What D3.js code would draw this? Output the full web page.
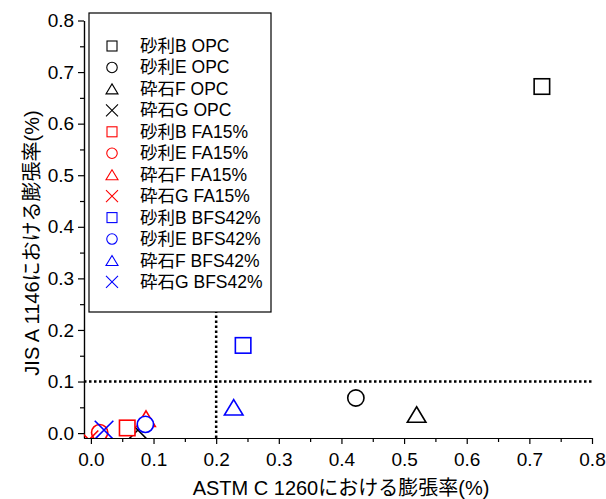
<!DOCTYPE html>
<html>
    <head>
		<meta http-equiv="Content-Type" content="text/html;charset=utf-8">
		<script type="text/javascript" src="https://d3js.org/d3.v7.min.js"></script>
		<style>
			body { margin: 0; background: #fff; }
			text { font-family: "Liberation Sans", "Noto Sans CJK JP", sans-serif; }
		</style>
	</head>
	<body>
		<div id="chart"></div>
		<script type="text/javascript">

// series: aggregate x binder
var seriesNames = ["砂利B OPC", "砂利E OPC", "砕石F OPC", "砕石G OPC",
                   "砂利B FA15%", "砂利E FA15%", "砕石F FA15%", "砕石G FA15%",
                   "砂利B BFS42%", "砂利E BFS42%", "砕石F BFS42%", "砕石G BFS42%"];
var seriesShapes = ["square", "circle", "triangle", "cross",
                    "square", "circle", "triangle", "cross",
                    "square", "circle", "triangle", "cross"];
var seriesColors = ["#000", "#000", "#000", "#000",
                    "#f00", "#f00", "#f00", "#f00",
                    "#00f", "#00f", "#00f", "#00f"];
// ASTM C 1260 (x) and JIS A 1146 (y) expansion, %
var astmValues = [0.72, 0.423, 0.52, 0.075, 0.058, 0.014, 0.088, -0.003, 0.243, 0.087, 0.228, 0.021];
var jisValues  = [0.672, 0.068, 0.036, 0.006, 0.01, 0.001, 0.028, -0.013, 0.17, 0.017, 0.05, 0.006];

var xTicks = [0, 0.1, 0.2, 0.3, 0.4, 0.5, 0.6, 0.7, 0.8];
var yTicks = [0, 0.1, 0.2, 0.3, 0.4, 0.5, 0.6, 0.7, 0.8];
var minorTicks = [0.05, 0.15, 0.25, 0.35, 0.45, 0.55, 0.65, 0.75];
var limitX = 0.2;
var limitY = 0.1;

var width = 606;
var height = 499;

var x = d3.scaleLinear().domain([-0.011, 0.8]).range([84, 592]);
var y = d3.scaleLinear().domain([-0.0095, 0.8]).range([438, 20.5]);

var svg = d3.select("#chart").append("svg")
    .attr("width", width)
    .attr("height", height);

svg.append("defs").append("clipPath")
    .attr("id", "plotclip")
    .append("rect")
    .attr("x", 84).attr("y", 0)
    .attr("width", 520).attr("height", 438);

// dotted limit lines
svg.append("line")
    .attr("x1", x(limitX)).attr("x2", x(limitX))
    .attr("y1", y(0.8)).attr("y2", y.range()[0])
    .attr("stroke", "#000").attr("stroke-width", 2.5)
    .attr("stroke-dasharray", "2.5,2.5");
svg.append("line")
    .attr("x1", x.range()[0]).attr("x2", x(0.8))
    .attr("y1", y(limitY)).attr("y2", y(limitY))
    .attr("stroke", "#000").attr("stroke-width", 2.5)
    .attr("stroke-dasharray", "2.5,2.5");

// axes
var xAxis = svg.append("g")
    .attr("transform", "translate(0,438)")
    .call(d3.axisBottom(x).tickValues(xTicks).tickFormat(d3.format(".1f")).tickSize(6).tickSizeOuter(0));
svg.append("g")
    .attr("transform", "translate(0,438)")
    .call(d3.axisBottom(x).tickValues(minorTicks).tickFormat("").tickSize(4).tickSizeOuter(0));
var yAxis = svg.append("g")
    .attr("transform", "translate(84,0)")
    .call(d3.axisLeft(y).tickValues(yTicks).tickFormat(d3.format(".1f")).tickSize(6).tickSizeOuter(0));
svg.append("g")
    .attr("transform", "translate(84,0)")
    .call(d3.axisLeft(y).tickValues(minorTicks).tickFormat("").tickSize(4).tickSizeOuter(0));

svg.selectAll(".domain").attr("stroke", "#000").attr("stroke-width", 1.2);
svg.selectAll(".tick line").attr("stroke", "#000").attr("stroke-width", 1.2);
xAxis.selectAll("text").attr("font-size", 19).attr("fill", "#000").attr("dy", "1.0em");
yAxis.selectAll("text").attr("font-size", 19).attr("fill", "#000").attr("dx", "-0.05em");

svg.append("text")
    .attr("x", 341).attr("y", 495)
    .attr("text-anchor", "middle")
    .attr("font-size", 20)
    .text("ASTM C 1260における膨張率(%)");
svg.append("text")
    .attr("transform", "translate(39,243) rotate(-90)")
    .attr("text-anchor", "middle")
    .attr("font-size", 20)
    .text("JIS A 1146における膨張率(%)");

function drawMarker(g, shape, color, s, sw) {
    var h = s / 2;
    if (shape == "square") {
        g.append("rect").attr("x", -h).attr("y", -h).attr("width", s).attr("height", s)
            .attr("fill", "#fff").attr("stroke", color).attr("stroke-width", sw);
    } else if (shape == "circle") {
        g.append("circle").attr("r", h * 1.05)
            .attr("fill", "#fff").attr("stroke", color).attr("stroke-width", sw);
    } else if (shape == "triangle") {
        var w = s * 1.2;
        g.append("path")
            .attr("d", "M0," + (-h) + "L" + (w / 2) + "," + h + "L" + (-w / 2) + "," + h + "Z")
            .attr("fill", "#fff").attr("stroke", color).attr("stroke-width", sw);
    } else {
        var c = s * 0.6;
        g.append("path")
            .attr("d", "M" + (-c) + "," + (-c) + "L" + c + "," + c + "M" + c + "," + (-c) + "L" + (-c) + "," + c)
            .attr("fill", "none").attr("stroke", color).attr("stroke-width", sw);
    }
}

// data points
var pts = svg.append("g").attr("clip-path", "url(#plotclip)");
for (var i = 0; i < seriesNames.length; i++) {
    var g = pts.append("g")
        .attr("transform", "translate(" + x(astmValues[i]) + "," + y(jisValues[i]) + ")");
    drawMarker(g, seriesShapes[i], seriesColors[i], 15.5, 1.6);
}

// legend
var legend = svg.append("g");
legend.append("rect")
    .attr("x", 89).attr("y", 13).attr("width", 182).attr("height", 299)
    .attr("fill", "#fff").attr("stroke", "#000").attr("stroke-width", 1.2);
for (var i = 0; i < seriesNames.length; i++) {
    var ly = 46 + i * 21.45;
    var lg = legend.append("g").attr("transform", "translate(112," + ly + ")");
    drawMarker(lg, seriesShapes[i], seriesColors[i], 10, 1.1);
    legend.append("text")
        .attr("x", 140).attr("y", ly + 6)
        .attr("font-size", 17.5)
        .text(seriesNames[i]);
}

		</script>
	</body>
</html>
